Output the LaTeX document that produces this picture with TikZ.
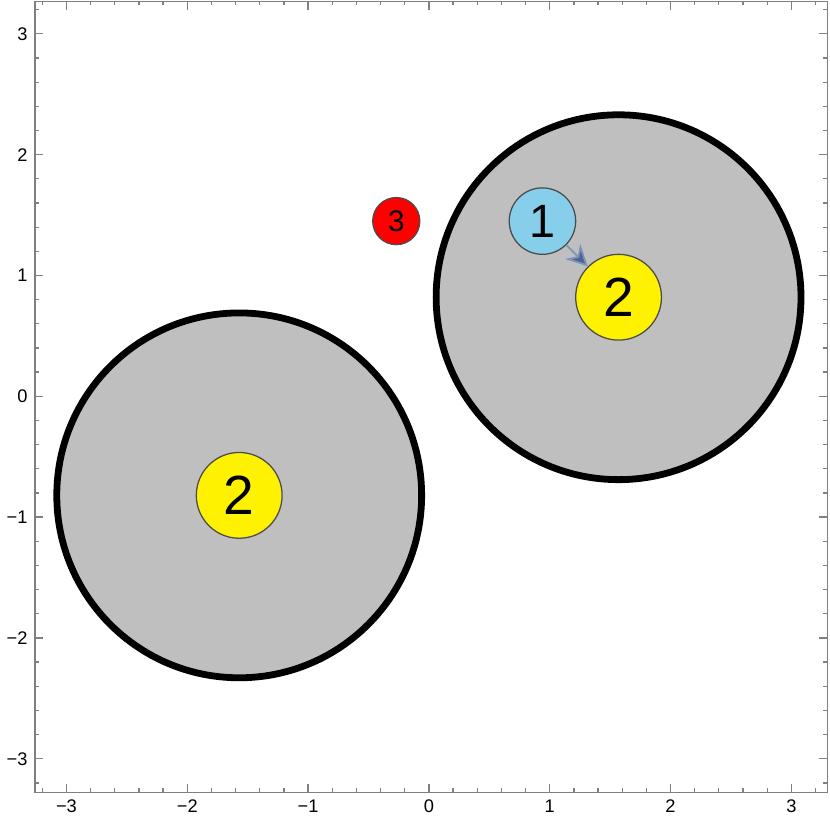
\documentclass[tikz,border=0pt]{standalone}
\usepackage{fontspec}
\setmainfont{Liberation Sans}
\usetikzlibrary{arrows.meta}
\definecolor{diskgray}{RGB}{191,191,191}
\definecolor{skyblue}{RGB}{135,206,235}
\definecolor{arrowblue}{RGB}{74,100,150}
\tikzset{
  disk/.style={circle,draw=black,line width=1.6pt,fill=diskgray,minimum size=3.02cm,inner sep=0pt},
  ball/.style={circle,draw=black!70,line width=0.3pt,inner sep=0pt},
  ticklbl/.style={font=\fontsize{4.3}{5}\selectfont,inner sep=1pt}
}
\begin{document}
\begin{tikzpicture}[x=1cm,y=1cm]
  \useasboundingbox (-3.55,-3.55) rectangle (3.32,3.28);
  %% frame and ticks
  \draw[black!50,line width=0.3pt] (-3.26,-3.28) rectangle (3.30,3.27);
  \foreach \t in {-3.2,-3.0,...,3.2} {
    \draw[black!50,line width=0.3pt] (\t,-3.28) -- ++(0,0.035);
    \draw[black!50,line width=0.3pt] (\t,3.27) -- ++(0,-0.035);
    \draw[black!50,line width=0.3pt] (-3.26,\t) -- ++(0.035,0);
    \draw[black!50,line width=0.3pt] (3.30,\t) -- ++(-0.035,0);
  }
  \foreach \t/\l in {-3/−3,-2/−2,-1/−1,0/0,1/1,2/2,3/3} {
    \draw[black!50,line width=0.3pt] (\t,-3.28) -- ++(0,0.07);
    \draw[black!50,line width=0.3pt] (\t,3.27) -- ++(0,-0.07);
    \draw[black!50,line width=0.3pt] (-3.26,\t) -- ++(0.07,0);
    \draw[black!50,line width=0.3pt] (3.30,\t) -- ++(-0.07,0);
    \node[ticklbl,below] at (\t,-3.30) {\l};
    \node[ticklbl,left] at (-3.28,\t) {\l};
  }
  %% disks
  \node[disk] (diskR) at (1.57,0.82) {};
  \node[disk] (diskL) at (-1.57,-0.82) {};
  %% balls
  \node[ball,fill=yellow,minimum size=0.71cm,font=\fontsize{13}{13}\selectfont] (b2R) at (1.57,0.82) {2};
  \node[ball,fill=yellow,minimum size=0.71cm,font=\fontsize{13}{13}\selectfont] (b2L) at (-1.57,-0.82) {2};
  \node[ball,fill=skyblue,minimum size=0.55cm,font=\fontsize{11}{11}\selectfont] (b1) at (0.94,1.45) {1};
  \node[ball,fill=red,minimum size=0.39cm,font=\fontsize{7}{7}\selectfont] (b3) at (-0.27,1.45) {3};
  \draw[arrowblue!70,line width=0.4pt,-{Stealth[length=5pt,width=5pt,fill=arrowblue]}] (b1) -- (b2R);
\end{tikzpicture}
\end{document}
